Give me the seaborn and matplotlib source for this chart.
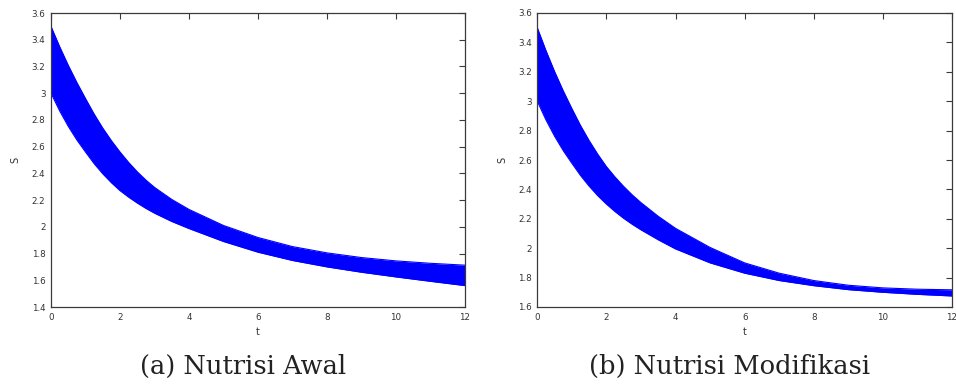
import numpy as np
import pandas as pd
import matplotlib
matplotlib.use("Agg")
import matplotlib.pyplot as plt
import seaborn as sns
from matplotlib.ticker import FuncFormatter

# ---- data ----
t_vals = [0, 0.25, 0.5, 0.75, 1, 1.25, 1.5, 1.75, 2, 2.25, 2.5, 2.75, 3,
          3.5, 4, 5, 6, 7, 8, 9, 10, 11, 12]

awal_upper = [3.50, 3.349, 3.209, 3.080, 2.960, 2.844, 2.739, 2.645, 2.560,
              2.482, 2.412, 2.350, 2.295, 2.205, 2.130,
              2.010, 1.920, 1.852, 1.805, 1.770, 1.745, 1.727, 1.713]
awal_lower = [3.00, 2.868, 2.752, 2.650, 2.560, 2.473, 2.397, 2.330, 2.271,
              2.222, 2.178, 2.138, 2.102, 2.040, 1.987,
              1.890, 1.810, 1.748, 1.700, 1.660, 1.625, 1.592, 1.560]

modif_upper = [3.50, 3.345, 3.202, 3.071, 2.950, 2.835, 2.732, 2.639, 2.555,
               2.484, 2.420, 2.362, 2.310, 2.217, 2.135,
               2.005, 1.900, 1.830, 1.780, 1.748, 1.730, 1.721, 1.717]
modif_lower = [3.00, 2.873, 2.762, 2.664, 2.578, 2.495, 2.422, 2.357, 2.300,
               2.249, 2.203, 2.162, 2.125, 2.057, 1.995,
               1.900, 1.830, 1.780, 1.745, 1.718, 1.700, 1.686, 1.675]

captions = ["(a) Nutrisi Awal", "(b) Nutrisi Modifikasi"]
y_limits = [(1.4, 3.6), (1.6, 3.6)]
x_ticks = [0, 2, 4, 6, 8, 10, 12]

sns.set_theme(style="white")
plt.rcParams["font.family"] = ["DejaVu Sans"]

fig = plt.figure(figsize=(9.56, 3.85), dpi=100)
W, H = 956, 385
axes_px = [(51, 13, 465, 307), (537.3, 13, 952, 307)]

panels = [(awal_upper, awal_lower), (modif_upper, modif_lower)]
edge_col = "#3a3a3a"

def fmt(v, pos):
    return "%g" % round(v, 2)

for i, ((x0, y0, x1, y1), (up, lo)) in enumerate(zip(axes_px, panels)):
    ax = fig.add_axes([x0 / W, 1 - y1 / H, (x1 - x0) / W, (y1 - y0) / H])
    df = pd.DataFrame({
        "t": t_vals * 2,
        "S": up + lo,
        "edge": ["upper"] * len(t_vals) + ["lower"] * len(t_vals),
    })
    sns.lineplot(data=df, x="t", y="S", hue="edge", palette=["#0000ff", "#0000ff"],
                 legend=False, ax=ax, linewidth=0.8, estimator=None)
    ax.fill_between(t_vals, lo, up, color="#0000ff", linewidth=0)
    ax.set_xlim(0, 12)
    ax.set_ylim(*y_limits[i])
    ax.set_xticks(x_ticks)
    lo_y, hi_y = y_limits[i]
    ax.set_yticks(np.round(np.arange(lo_y, hi_y + 0.001, 0.2), 2))
    ax.xaxis.set_major_formatter(FuncFormatter(fmt))
    ax.yaxis.set_major_formatter(FuncFormatter(fmt))
    ax.tick_params(axis="both", direction="in", length=4, width=0.8,
                   colors=edge_col, labelsize=6.3, labelcolor="#333333",
                   top=True, right=True, pad=4)
    for sp in ax.spines.values():
        sp.set_color(edge_col)
        sp.set_linewidth(0.9)
        sp.set_visible(True)
    ax.set_xlabel("t", fontsize=7, color="#333333", labelpad=4)
    ax.set_ylabel("S", fontsize=7, color="#333333", labelpad=8)
    ax.set_facecolor("white")
    ax.grid(False)
    cx = (x0 + x1) / 2 - 15
    fig.text(cx / W, 1 - 366 / H, captions[i], ha="center", va="center",
             fontsize=18.5, family=["DejaVu Serif"], color="#222222")

fig.savefig("out.png", dpi=100, facecolor="white")
